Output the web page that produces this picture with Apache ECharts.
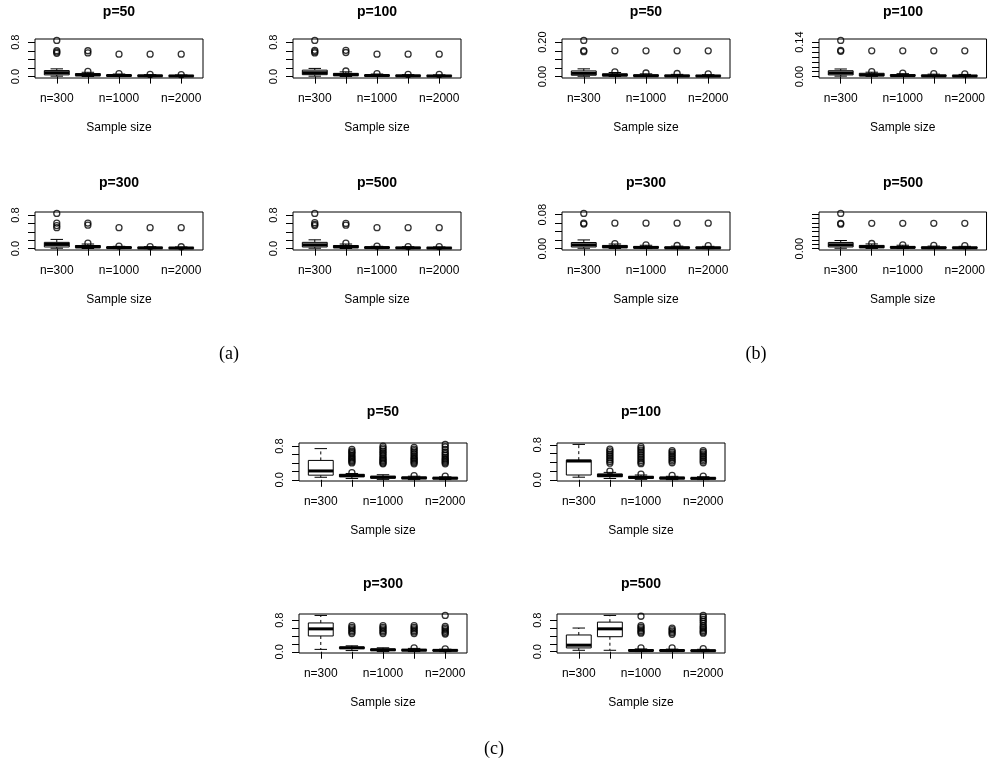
<!DOCTYPE html>
<html>
<head>
<meta charset="utf-8">
<title>Sample size boxplots</title>
<script src="https://cdn.jsdelivr.net/npm/echarts@6/dist/echarts.min.js"></script>
<style>
  html, body { margin: 0; padding: 0; background: #fff; }
  #chart { width: 988px; height: 776px; }
</style>
</head>
<body>
<div id="chart"></div>
<script>
// Sample sizes on the x axis (only every other label fits)
const sampleSizes = ['n=300', 'n=500', 'n=1000', 'n=1500', 'n=2000'];
const labelledSizes = [1, 3, 5];
const panelTitles = ['p=50', 'p=100', 'p=300', 'p=500'];

// Box statistics per sample size: [lower whisker, Q1, median, Q3, upper whisker]
// ---- (a) ----
const boxA50 = [[0.01, 0.04, 0.09, 0.14, 0.18], [0.003, 0.02, 0.04, 0.07, 0.10], [0.002, 0.01, 0.025, 0.04, 0.06], [0.001, 0.008, 0.018, 0.03, 0.045], [0.001, 0.006, 0.015, 0.025, 0.038]];
const outA50 = [[0.84, 0.6, 0.57, 0.54], [0.6, 0.55, 0.12], [0.52, 0.07], [0.52, 0.05], [0.52, 0.045]];
const boxA100 = [[0.01, 0.045, 0.09, 0.15, 0.19], [0.003, 0.02, 0.045, 0.075, 0.11], [0.002, 0.01, 0.025, 0.04, 0.06], [0.001, 0.008, 0.018, 0.03, 0.045], [0.001, 0.006, 0.015, 0.025, 0.04]];
const outA100 = [[0.84, 0.61, 0.58, 0.55], [0.61, 0.56, 0.13], [0.52, 0.07], [0.52, 0.05], [0.52, 0.05]];
const boxA300 = [[0.01, 0.04, 0.1, 0.15, 0.22], [0.003, 0.02, 0.045, 0.075, 0.11], [0.002, 0.01, 0.025, 0.04, 0.055], [0.001, 0.008, 0.018, 0.03, 0.045], [0.001, 0.006, 0.015, 0.025, 0.04]];
const outA300 = [[0.84, 0.61, 0.55, 0.5], [0.61, 0.56, 0.13], [0.5, 0.06], [0.5, 0.05], [0.5, 0.045]];
const boxA500 = [[0.01, 0.04, 0.09, 0.15, 0.21], [0.003, 0.02, 0.045, 0.075, 0.11], [0.002, 0.01, 0.025, 0.04, 0.055], [0.001, 0.008, 0.018, 0.03, 0.045], [0.001, 0.006, 0.015, 0.025, 0.04]];
const outA500 = [[0.84, 0.62, 0.58, 0.55], [0.6, 0.56, 0.13], [0.5, 0.06], [0.5, 0.05], [0.5, 0.05]];
// ---- (b) ----
const boxB50 = [[0.002, 0.008, 0.019, 0.033, 0.045], [0.001, 0.004, 0.009, 0.016, 0.024], [0.0005, 0.002, 0.005, 0.01, 0.016], [0.0005, 0.0015, 0.004, 0.008, 0.013], [0.0003, 0.0012, 0.0035, 0.007, 0.011]];
const outB50 = [[0.21, 0.151, 0.145], [0.15, 0.028], [0.15, 0.021], [0.15, 0.018], [0.15, 0.016]];
const boxB100 = [[0.002, 0.007, 0.015, 0.024, 0.031], [0.001, 0.003, 0.007, 0.0136, 0.018], [0.0005, 0.002, 0.004, 0.008, 0.012], [0.0004, 0.0015, 0.003, 0.006, 0.01], [0.0003, 0.0012, 0.0025, 0.005, 0.009]];
const outB100 = [[0.147, 0.107, 0.103], [0.105, 0.02], [0.105, 0.014], [0.105, 0.012], [0.105, 0.011]];
const boxB300 = [[0.001, 0.004, 0.009, 0.0145, 0.0206], [0.0005, 0.0023, 0.0045, 0.0076, 0.011], [0.0003, 0.0015, 0.003, 0.005, 0.008], [0.0002, 0.001, 0.002, 0.004, 0.006], [0.0002, 0.001, 0.002, 0.0035, 0.0055]];
const outB300 = [[0.083, 0.06, 0.058], [0.06, 0.012], [0.06, 0.009], [0.06, 0.0075], [0.06, 0.007]];
const boxB500 = [[0.001, 0.004, 0.009, 0.0145, 0.019], [0.0005, 0.0023, 0.0045, 0.0076, 0.011], [0.0003, 0.0015, 0.003, 0.005, 0.008], [0.0002, 0.001, 0.002, 0.004, 0.006], [0.0002, 0.001, 0.002, 0.0035, 0.0055]];
const outB500 = [[0.082, 0.059, 0.057], [0.059, 0.012], [0.059, 0.009], [0.059, 0.0075], [0.059, 0.007]];
// ---- (c) ----
const boxC50 = [[0.06, 0.11, 0.21, 0.46, 0.74], [0.03, 0.07, 0.1, 0.13, 0.15], [0.01, 0.04, 0.06, 0.085, 0.12], [0.005, 0.025, 0.045, 0.065, 0.085], [0.005, 0.02, 0.04, 0.055, 0.07]];
const outC50 = [
  [],
  [0.72, 0.68, 0.65, 0.62, 0.58, 0.55, 0.52, 0.49, 0.46, 0.43, 0.4, 0.17],
  [0.8, 0.76, 0.72, 0.68, 0.64, 0.6, 0.56, 0.52, 0.49, 0.46, 0.43, 0.4, 0.38],
  [0.77, 0.73, 0.69, 0.65, 0.61, 0.57, 0.53, 0.5, 0.47, 0.44, 0.41, 0.38, 0.1],
  [0.84, 0.78, 0.72, 0.66, 0.62, 0.58, 0.54, 0.5, 0.47, 0.44, 0.41, 0.38, 0.085]
];
const boxC100 = [[0.06, 0.11, 0.43, 0.45, 0.81], [0.03, 0.07, 0.1, 0.135, 0.17], [0.01, 0.035, 0.055, 0.08, 0.11], [0.005, 0.02, 0.04, 0.06, 0.08], [0.005, 0.015, 0.035, 0.05, 0.07]];
const outC100 = [
  [],
  [0.7, 0.66, 0.62, 0.58, 0.54, 0.5, 0.46, 0.42, 0.38, 0.2],
  [0.76, 0.72, 0.68, 0.64, 0.6, 0.56, 0.52, 0.48, 0.44, 0.4, 0.37, 0.13],
  [0.67, 0.63, 0.59, 0.55, 0.51, 0.47, 0.43, 0.39, 0.1],
  [0.67, 0.63, 0.59, 0.55, 0.51, 0.47, 0.43, 0.39, 0.085]
];
const boxC300 = [[0.06, 0.4, 0.58, 0.73, 0.92], [0.03, 0.08, 0.1, 0.12, 0.15], [0.005, 0.03, 0.05, 0.07, 0.1], [0.005, 0.025, 0.04, 0.06, 0.085], [0.005, 0.02, 0.035, 0.05, 0.065]];
const outC300 = [
  [],
  [0.66, 0.62, 0.58, 0.54, 0.5, 0.46],
  [0.66, 0.62, 0.58, 0.54, 0.5, 0.46],
  [0.66, 0.62, 0.58, 0.54, 0.5, 0.46, 0.1],
  [0.92, 0.64, 0.6, 0.56, 0.52, 0.48, 0.45, 0.075]
];
const boxC500 = [[0.035, 0.095, 0.165, 0.424, 0.6], [0.035, 0.38, 0.58, 0.75, 0.92], [0.003, 0.015, 0.03, 0.05, 0.07], [0.003, 0.015, 0.03, 0.045, 0.065], [0.003, 0.012, 0.025, 0.04, 0.06]];
const outC500 = [
  [],
  [],
  [0.9, 0.66, 0.62, 0.58, 0.54, 0.5, 0.47, 0.095],
  [0.6, 0.56, 0.52, 0.48, 0.44, 0.095],
  [0.92, 0.87, 0.82, 0.77, 0.72, 0.66, 0.62, 0.58, 0.54, 0.5, 0.47, 0.075]
];

// Y axis ticks and which of them carry a label
const yTicksWide = [0, 0.2, 0.4, 0.6, 0.8];
const yLabelsWide = [0, 0.8];
const yTicksB50 = [0, 0.05, 0.1, 0.15, 0.2];
const yLabelsB50 = [0, 0.2];
const yTicksB100 = [0, 0.02, 0.04, 0.06, 0.08, 0.1, 0.12, 0.14];
const yLabelsB100 = [0, 0.14];
const yTicksB300 = [0, 0.02, 0.04, 0.06, 0.08];
const yLabelsB300 = [0, 0.08];
const yTicksB500 = [0, 0.01, 0.02, 0.03, 0.04, 0.05, 0.06, 0.07, 0.08];
const yLabelsB500 = [0];

const FONT = '"Liberation Sans", Arial, Helvetica, sans-serif';

// Panel layout: plot rectangle (px) and the title / axis setup for each panel
const W = 168;
const panels = [
  { box: boxA50,  out: outA50,  title: 0, left: 35,  top: 39,  h: 39, ty: 12,  ticks: yTicksWide, labels: yLabelsWide, dp: 1 },
  { box: boxA100, out: outA100, title: 1, left: 293, top: 39,  h: 39, ty: 12,  ticks: yTicksWide, labels: yLabelsWide, dp: 1 },
  { box: boxA300, out: outA300, title: 2, left: 35,  top: 212, h: 38, ty: 183, ticks: yTicksWide, labels: yLabelsWide, dp: 1 },
  { box: boxA500, out: outA500, title: 3, left: 293, top: 212, h: 38, ty: 183, ticks: yTicksWide, labels: yLabelsWide, dp: 1 },
  { box: boxB50,  out: outB50,  title: 0, left: 562, top: 39,  h: 39, ty: 12,  ticks: yTicksB50,  labels: yLabelsB50,  dp: 2 },
  { box: boxB100, out: outB100, title: 1, left: 819, top: 39,  h: 39, ty: 12,  ticks: yTicksB100, labels: yLabelsB100, dp: 2 },
  { box: boxB300, out: outB300, title: 2, left: 562, top: 212, h: 38, ty: 183, ticks: yTicksB300, labels: yLabelsB300, dp: 2 },
  { box: boxB500, out: outB500, title: 3, left: 819, top: 212, h: 38, ty: 183, ticks: yTicksB500, labels: yLabelsB500, dp: 2 },
  { box: boxC50,  out: outC50,  title: 0, left: 299, top: 443, h: 38, ty: 412, ticks: yTicksWide, labels: yLabelsWide, dp: 1 },
  { box: boxC100, out: outC100, title: 1, left: 557, top: 443, h: 38, ty: 412, ticks: yTicksWide, labels: yLabelsWide, dp: 1 },
  { box: boxC300, out: outC300, title: 2, left: 299, top: 614, h: 39, ty: 584, ticks: yTicksWide, labels: yLabelsWide, dp: 1 },
  { box: boxC500, out: outC500, title: 3, left: 557, top: 614, h: 39, ty: 584, ticks: yTicksWide, labels: yLabelsWide, dp: 1 }
];

// Box with dashed whiskers, solid staples and a heavy median bar
function renderBox(params, api) {
  const x = api.value(0);
  const lo = api.value(1), q1 = api.value(2), med = api.value(3), q3 = api.value(4), hi = api.value(5);
  const xl = api.coord([x - 0.4, q1])[0];
  const xr = api.coord([x + 0.4, q1])[0];
  const xc = api.coord([x, q1])[0];
  const sl = api.coord([x - 0.2, lo])[0];
  const sr = api.coord([x + 0.2, lo])[0];
  const yLo = api.coord([x, lo])[1];
  const yQ1 = api.coord([x, q1])[1];
  const yMed = api.coord([x, med])[1];
  const yQ3 = api.coord([x, q3])[1];
  const yHi = api.coord([x, hi])[1];
  const solid = { stroke: '#000', lineWidth: 1, fill: null };
  const dashed = { stroke: '#000', lineWidth: 1, lineDash: [3, 3], fill: null };
  return {
    type: 'group',
    children: [
      { type: 'line', shape: { x1: xc, y1: yQ3, x2: xc, y2: yHi }, style: dashed },
      { type: 'line', shape: { x1: xc, y1: yQ1, x2: xc, y2: yLo }, style: dashed },
      { type: 'line', shape: { x1: sl, y1: yHi, x2: sr, y2: yHi }, style: solid },
      { type: 'line', shape: { x1: sl, y1: yLo, x2: sr, y2: yLo }, style: solid },
      { type: 'rect', shape: { x: xl, y: yQ3, width: xr - xl, height: yQ1 - yQ3 }, style: { fill: '#fff', stroke: '#000', lineWidth: 1 } },
      { type: 'line', shape: { x1: xl, y1: yMed, x2: xr, y2: yMed }, style: { stroke: '#000', lineWidth: 3 } }
    ]
  };
}

const grids = [], xAxes = [], yAxes = [], series = [], graphics = [];

panels.forEach((p, i) => {
  // y range: data range widened by 4% on each side
  const all = [];
  p.box.forEach(b => all.push(...b));
  p.out.forEach(o => all.push(...o));
  const dMin = Math.min(...all), dMax = Math.max(...all);
  const ext = 0.04 * (dMax - dMin);

  grids.push({
    left: p.left, top: p.top, width: W, height: p.h,
    show: true, borderColor: '#000', borderWidth: 1, backgroundColor: 'transparent'
  });

  xAxes.push({
    gridIndex: i, type: 'value', min: 0.3, max: 5.7,
    axisLine: { show: false },
    splitLine: { show: false },
    axisTick: { show: true, customValues: [1, 2, 3, 4, 5], length: 7, lineStyle: { color: '#000', width: 1 } },
    axisLabel: {
      customValues: labelledSizes,
      formatter: v => sampleSizes[Math.round(v) - 1],
      margin: 15, fontSize: 12, color: '#000', fontFamily: FONT
    },
    name: 'Sample size', nameLocation: 'middle', nameGap: 44,
    nameTextStyle: { fontSize: 12, color: '#000', fontFamily: FONT }
  });

  yAxes.push({
    gridIndex: i, type: 'value', min: dMin - ext, max: dMax + ext,
    axisLine: { show: false },
    splitLine: { show: false },
    axisTick: { show: true, customValues: p.ticks, length: 7, lineStyle: { color: '#000', width: 1 } },
    axisLabel: {
      customValues: p.labels,
      formatter: v => Number(v).toFixed(p.dp),
      rotate: 90, margin: 14, fontSize: 11, color: '#000', fontFamily: FONT
    }
  });

  series.push({
    type: 'custom',
    xAxisIndex: i, yAxisIndex: i,
    renderItem: renderBox,
    encode: { x: 0, y: [1, 2, 3, 4, 5] },
    data: p.box.map((b, k) => [k + 1, ...b]),
    z: 2,
    silent: true
  });

  const pts = [];
  p.out.forEach((o, k) => o.forEach(v => pts.push([k + 1, v])));
  series.push({
    type: 'scatter',
    xAxisIndex: i, yAxisIndex: i,
    symbol: 'circle', symbolSize: 6,
    itemStyle: { color: 'rgba(0,0,0,0)', borderColor: '#000', borderWidth: 1.3 },
    data: pts,
    z: 3,
    silent: true
  });

  graphics.push({
    type: 'text', x: p.left + W / 2, y: p.ty,
    style: { text: panelTitles[p.title], fontSize: 14, fontWeight: 'bold', fontFamily: FONT, fill: '#000', align: 'center', verticalAlign: 'middle' }
  });
});

// Sub-figure captions
const captions = [['(a)', 229, 354], ['(b)', 756, 354], ['(c)', 494, 749]];
captions.forEach(c => graphics.push({
  type: 'text', x: c[1], y: c[2],
  style: { text: c[0], fontSize: 18, fontFamily: '"Liberation Serif", "DejaVu Serif", serif', fill: '#000', align: 'center', verticalAlign: 'middle' }
}));

const chart = echarts.init(document.getElementById('chart'), null, { renderer: 'canvas' });
chart.setOption({
  backgroundColor: '#fff',
  animation: false,
  grid: grids,
  xAxis: xAxes,
  yAxis: yAxes,
  series: series,
  graphic: graphics
});
</script>
</body>
</html>
